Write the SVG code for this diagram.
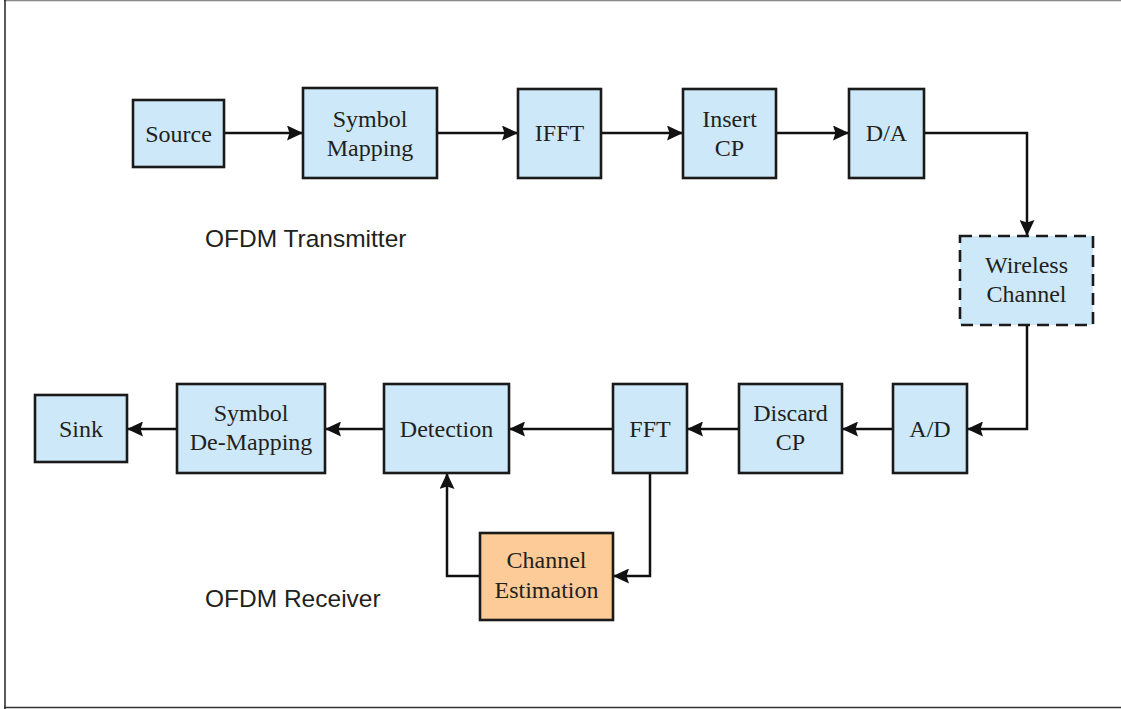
<svg xmlns="http://www.w3.org/2000/svg" width="1121" height="709" viewBox="0 0 1121 709">
  <style>
    .blk { fill: #cde8f8; stroke: #1a1a1a; stroke-width: 2.6; }
    .est { fill: #fccb98; stroke: #1a1a1a; stroke-width: 2.6; }
    .dash { stroke-dasharray: 12 7; }
    .lbl { font-family: "Liberation Serif", "Times New Roman", serif; font-size: 24px; fill: #231f20; text-anchor: middle; }
    .cap { font-family: "Liberation Sans", Arial, sans-serif; font-size: 24.5px; fill: #231f20; }
    .wire { fill: none; stroke: #111; stroke-width: 2.5; marker-end: url(#arrow); }
  </style>
  <defs>
    <marker id="arrow" markerUnits="userSpaceOnUse" markerWidth="17" markerHeight="15" refX="16" refY="7.5" orient="auto">
      <path d="M0,0 L16,7.5 L0,15 L2.5,7.5 Z" fill="#111"/>
    </marker>
  </defs>

  <rect width="1121" height="709" fill="#ffffff"/>
  <!-- page frame -->
  <line x1="4" y1="0.5" x2="1121" y2="0.5" stroke="#888" stroke-width="1.5"/>
  <line x1="5" y1="0" x2="5" y2="709" stroke="#222" stroke-width="1.5"/>
  <line x1="4" y1="707.5" x2="1121" y2="707.5" stroke="#333" stroke-width="1.5"/>

  <!-- connectors -->
  <g id="connectors">
    <path class="wire" d="M224,133 H303"/>
    <path class="wire" d="M437,133 H518"/>
    <path class="wire" d="M601,133 H683"/>
    <path class="wire" d="M776,133 H849"/>
    <path class="wire" d="M924,133 H1027 V236"/>
    <path class="wire" d="M1027,325 V429 H967"/>
    <path class="wire" d="M893,429 H842"/>
    <path class="wire" d="M739,429 H687"/>
    <path class="wire" d="M613,429 H509"/>
    <path class="wire" d="M384,429 H325"/>
    <path class="wire" d="M177,429 H127"/>
    <path class="wire" d="M650,473 V576 H613"/>
    <path class="wire" d="M480,576 H447 V473"/>
  </g>

  <!-- transmitter chain -->
  <g id="source">
    <rect class="blk" x="133" y="100" width="91" height="67"/>
    <text class="lbl" x="178.5" y="142">Source</text>
  </g>
  <g id="symbol-mapping">
    <rect class="blk" x="303" y="88" width="134" height="90"/>
    <text class="lbl" x="370" y="127">Symbol</text>
    <text class="lbl" x="370" y="156">Mapping</text>
  </g>
  <g id="ifft">
    <rect class="blk" x="518" y="89" width="83" height="89"/>
    <text class="lbl" x="559.5" y="141">IFFT</text>
  </g>
  <g id="insert-cp">
    <rect class="blk" x="683" y="89" width="93" height="89"/>
    <text class="lbl" x="729.5" y="127">Insert</text>
    <text class="lbl" x="729.5" y="156">CP</text>
  </g>
  <g id="da">
    <rect class="blk" x="849" y="89" width="75" height="89"/>
    <text class="lbl" x="886.5" y="141">D/A</text>
  </g>

  <!-- channel -->
  <g id="wireless-channel">
    <rect class="blk dash" x="960" y="236" width="133" height="89"/>
    <text class="lbl" x="1026.5" y="273">Wireless</text>
    <text class="lbl" x="1026.5" y="302">Channel</text>
  </g>

  <!-- receiver chain -->
  <g id="ad">
    <rect class="blk" x="893" y="384" width="74" height="89"/>
    <text class="lbl" x="930" y="437">A/D</text>
  </g>
  <g id="discard-cp">
    <rect class="blk" x="739" y="384" width="103" height="89"/>
    <text class="lbl" x="790.5" y="421">Discard</text>
    <text class="lbl" x="790.5" y="450">CP</text>
  </g>
  <g id="fft">
    <rect class="blk" x="613" y="384" width="74" height="89"/>
    <text class="lbl" x="650" y="437">FFT</text>
  </g>
  <g id="detection">
    <rect class="blk" x="384" y="384" width="125" height="89"/>
    <text class="lbl" x="446.5" y="437">Detection</text>
  </g>
  <g id="symbol-demapping">
    <rect class="blk" x="177" y="384" width="148" height="89"/>
    <text class="lbl" x="251" y="421">Symbol</text>
    <text class="lbl" x="251" y="450">De-Mapping</text>
  </g>
  <g id="sink">
    <rect class="blk" x="35" y="395" width="92" height="67"/>
    <text class="lbl" x="81" y="437">Sink</text>
  </g>
  <g id="channel-estimation">
    <rect class="est" x="480" y="533" width="133" height="87"/>
    <text class="lbl" x="546.5" y="568">Channel</text>
    <text class="lbl" x="546.5" y="598">Estimation</text>
  </g>

  <!-- section captions -->
  <text class="cap" x="205" y="247">OFDM Transmitter</text>
  <text class="cap" x="205" y="607">OFDM Receiver</text>
</svg>
